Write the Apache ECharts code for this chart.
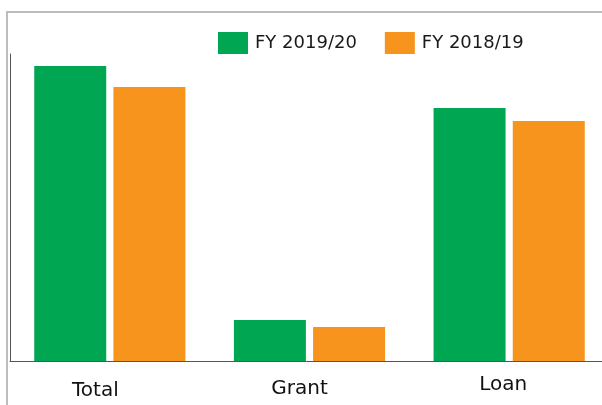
<!DOCTYPE html>
<html>
<head>
<meta charset="utf-8">
<script src="https://cdn.jsdelivr.net/npm/echarts@6/dist/echarts.min.js"></script>
<style>
html, body { margin: 0; padding: 0; background: #fff; }
#chart { width: 602px; height: 405px; }
</style>
</head>
<body>
<div id="chart"></div>
<script>
// values (no axis scale shown, relative units)
const categories = ['Total', 'Grant', 'Loan'];
const seriesNames = ['FY 2019/20', 'FY 2018/19'];
const fy1920 = [295, 41, 253];
const fy1819 = [274, 34, 240];

const font = '"DejaVu Sans", "Noto Sans", sans-serif';

const chart = echarts.init(document.getElementById('chart'));
const option = {
    backgroundColor: '#fff',
    color: ['#00A651', '#F7941D'],
    animation: false,
    legend: {
        left: 218,
        top: 32,
        padding: 0,
        itemWidth: 30,
        itemHeight: 22,
        itemGap: 28,
        icon: 'rect',
        data: seriesNames,
        textStyle: { fontFamily: font, fontSize: 18, color: '#1a1a1a', padding: [0, 0, 0, 2] }
    },
    grid: { left: 10, width: 599, top: 54, bottom: 44, outerBoundsMode: 'none', containLabel: false },
    xAxis: {
        type: 'category',
        data: categories,
        axisLine: { lineStyle: { color: '#555', width: 1 } },
        axisTick: { show: false },
        axisLabel: {
            margin: 14,
            fontFamily: font,
            fontSize: 20,
            color: '#111',
            formatter: function (v) {
                if (v === 'Total') return '{t|' + v + '}';
                if (v === 'Grant') return '{g|' + v + '}';
                return '{l|' + v + '}';
            },
            rich: {
                t: { fontFamily: font, fontSize: 20, color: '#111', padding: [6, 29, 0, 0] },
                g: { fontFamily: font, fontSize: 20, color: '#111', padding: [4, 20, 0, 0] },
                l: { fontFamily: font, fontSize: 20, color: '#111', padding: [0, 12, 8, 0] }
            }
        }
    },
    yAxis: {
        type: 'value',
        min: 0,
        max: 307,
        axisLine: { show: true, lineStyle: { color: '#555', width: 1 } },
        axisTick: { show: false },
        axisLabel: { show: false },
        splitLine: { show: false }
    },
    series: [
        { name: seriesNames[0], type: 'bar', data: fy1920, barWidth: 72, barGap: '10%' },
        { name: seriesNames[1], type: 'bar', data: fy1819, barWidth: 72, barGap: '10%' }
    ],
    graphic: [
        { type: 'polyline', silent: true,
          shape: { points: [[7, 405], [7, 12], [602, 12]] },
          style: { stroke: '#bdbdbd', lineWidth: 2, fill: null } }
    ]
};
chart.setOption(option);
window.addEventListener('resize', function () { chart.resize(); });
</script>
</body>
</html>
